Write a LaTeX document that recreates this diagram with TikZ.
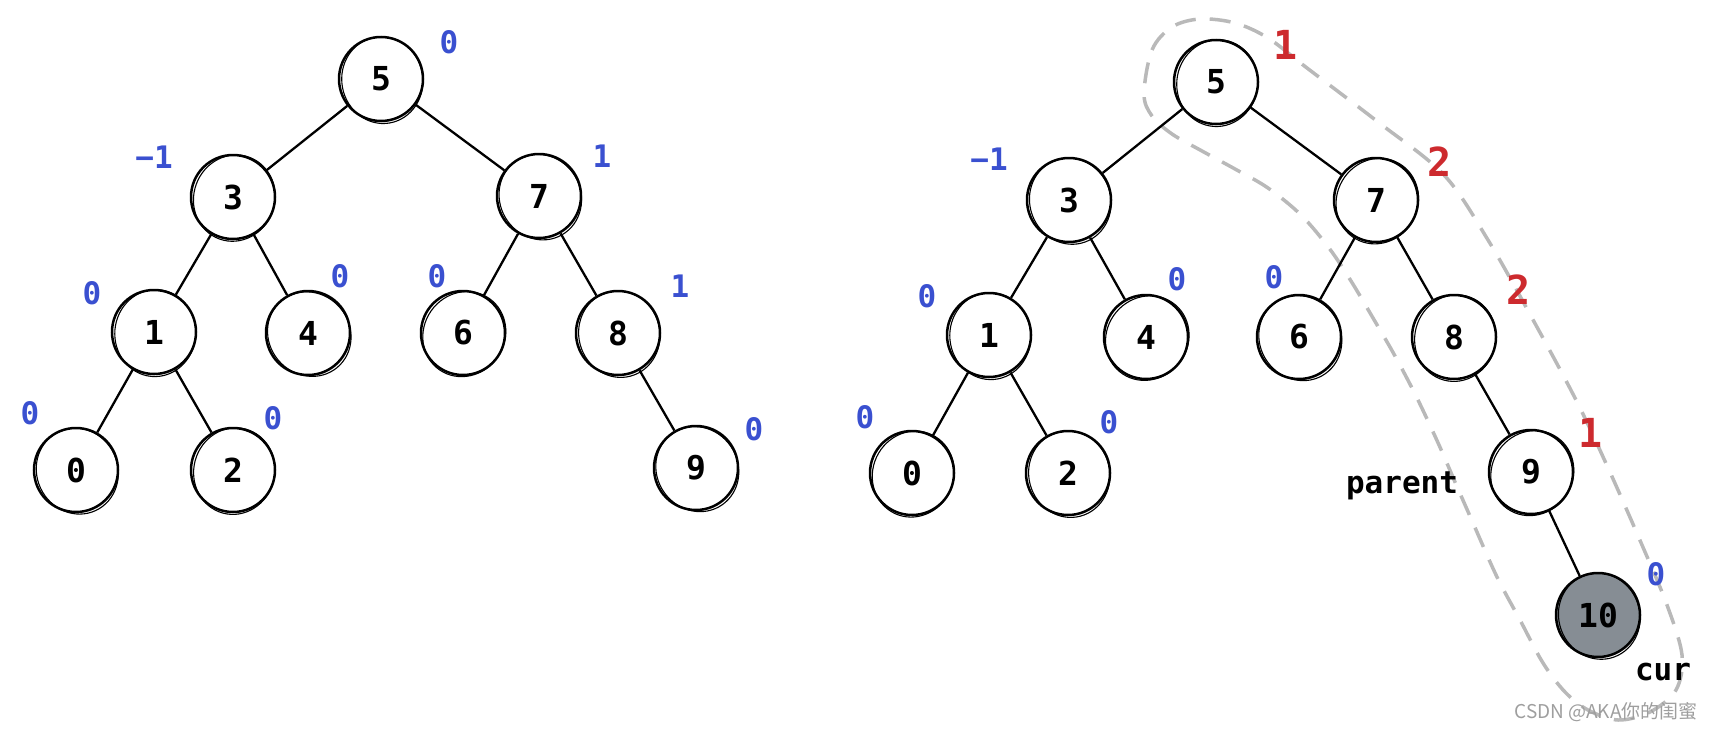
\documentclass[tikz,border=0pt]{standalone}
\usepackage{fontspec}
\setmonofont{DejaVu Sans Mono}
\newfontfamily\wmfont{Noto Sans CJK SC}
\definecolor{lblblue}{RGB}{58,80,208}
\definecolor{lblred}{RGB}{205,42,46}
\definecolor{curgray}{RGB}{134,141,148}
\definecolor{dashgray}{RGB}{185,185,185}
\begin{document}
\begin{tikzpicture}[x=1pt,y=-1pt,
  tn/.style={circle, draw=black, line width=2.5pt, minimum size=84pt, inner sep=0pt,
    font=\ttfamily\bfseries\fontsize{33}{33}\selectfont},
  sk/.style={line width=1.1pt},
  edge/.style={line width=2.3pt},
  bl/.style={text=lblblue, font=\ttfamily\bfseries\fontsize{31}{31}\selectfont, inner sep=0pt},
  rd/.style={text=lblred, font=\ttfamily\bfseries\fontsize{40}{40}\selectfont, inner sep=0pt},
  tag/.style={text=black, font=\ttfamily\bfseries\fontsize{31}{31}\selectfont, inner sep=0pt},
  outline/.style={draw=dashgray, line width=3.5pt, dash pattern=on 21pt off 14pt}
]
\useasboundingbox (0,0) rectangle (1713,731);

% dashed outline of the path 5-7-8-9-10
\draw[outline] plot[smooth cycle, tension=0.55] coordinates {
  (1144,94) (1152,50) (1172,27) (1200,19) (1235,23) (1268,38) (1307,68)
  (1378,122) (1444,175) (1488,240) (1532,318) (1576,400) (1609,470)
  (1642,545) (1667,605) (1682,655) (1676,690) (1650,712) (1618,720)
  (1588,710) (1565,692) (1543,663) (1520,620) (1497,577) (1473,523)
  (1455,482) (1439,445) (1417,398) (1395,356) (1373,318) (1351,281)
  (1329,248) (1301,215) (1268,188) (1235,169) (1202,151) (1172,134) (1152,116)};

% ---------- left tree ----------
\node[tn] (L5) at (381,79) {5};
\node[tn] (L3) at (233,197) {3};
\node[tn] (L7) at (539,196) {7};
\node[tn] (L1) at (154,332) {1};
\node[tn] (L4) at (308,333) {4};
\node[tn] (L6) at (463,333) {6};
\node[tn] (L8) at (618,333) {8};
\node[tn] (L0) at (76,470) {0};
\node[tn] (L2) at (233,470) {2};
\node[tn] (L9) at (696,468) {9};

% ---------- right tree ----------
\node[tn] (R5) at (1216,82) {5};
\node[tn] (R3) at (1069,200) {3};
\node[tn] (R7) at (1376,200) {7};
\node[tn] (R1) at (989,335) {1};
\node[tn] (R4) at (1146,337) {4};
\node[tn] (R6) at (1299,337) {6};
\node[tn] (R8) at (1454,337) {8};
\node[tn] (R0) at (912,473) {0};
\node[tn] (R2) at (1068,473) {2};
\node[tn] (R9) at (1531,472) {9};
\node[tn, fill=curgray] (R10) at (1598,615) {10};

% sketchy second outlines
\foreach \n/\a in {L5/10,L3/-20,L7/30,L1/-5,L4/40,L6/-35,L8/15,L0/25,L2/-15,L9/35,
                   R5/-10,R3/20,R7/-30,R1/5,R4/-40,R6/35,R8/-15,R0/-25,R2/15,R9/-35,R10/20}
  \draw[sk] ([shift={(1.3,1.1)}]\n.center) ellipse [x radius=40.5, y radius=43.5, rotate=\a];

% ---------- edges ----------
\foreach \p/\c in {L5/L3,L5/L7,L3/L1,L3/L4,L7/L6,L7/L8,L1/L0,L1/L2,L8/L9,
                   R5/R3,R5/R7,R3/R1,R3/R4,R7/R6,R7/R8,R1/R0,R1/R2,R8/R9,R9/R10}
  \draw[edge] (\p) -- (\c);

% ---------- balance factors, left ----------
\node[bl] (lb5) at (449,42) {0};
\node[bl] (lb3) at (154,157) {−1};
\node[bl] (lb7) at (602,156) {1};
\node[bl] (lb1) at (92,293) {0};
\node[bl] (lb4) at (340,276) {0};
\node[bl] (lb6) at (437,276) {0};
\node[bl] (lb8) at (680,286) {1};
\node[bl] (lb0) at (30,413) {0};
\node[bl] (lb2) at (273,418) {0};
\node[bl] (lb9) at (754,429) {0};

% ---------- balance factors, right ----------
\node[rd] (rb5) at (1286,45) {1};
\node[bl] (rb3) at (989,159) {−1};
\node[rd] (rb7) at (1440,162) {2};
\node[bl] (rb1) at (927,296) {0};
\node[bl] (rb4) at (1177,279) {0};
\node[bl] (rb6) at (1274,277) {0};
\node[rd] (rb8) at (1519,290) {2};
\node[bl] (rb0) at (865,417) {0};
\node[bl] (rb2) at (1109,422) {0};
\node[rd] (rb9) at (1591,433) {1};
\node[bl] (rb10) at (1656,574) {0};

\node[tag] (parent) at (1402,486) {parent};
\node[tag] (cur) at (1663,672) {cur};

\node[text=black!38, font=\wmfont\fontsize{19}{19}\selectfont, inner sep=0pt] (wm) at (1606,712) {CSDN @AKA你的闺蜜};
\end{tikzpicture}
\end{document}
